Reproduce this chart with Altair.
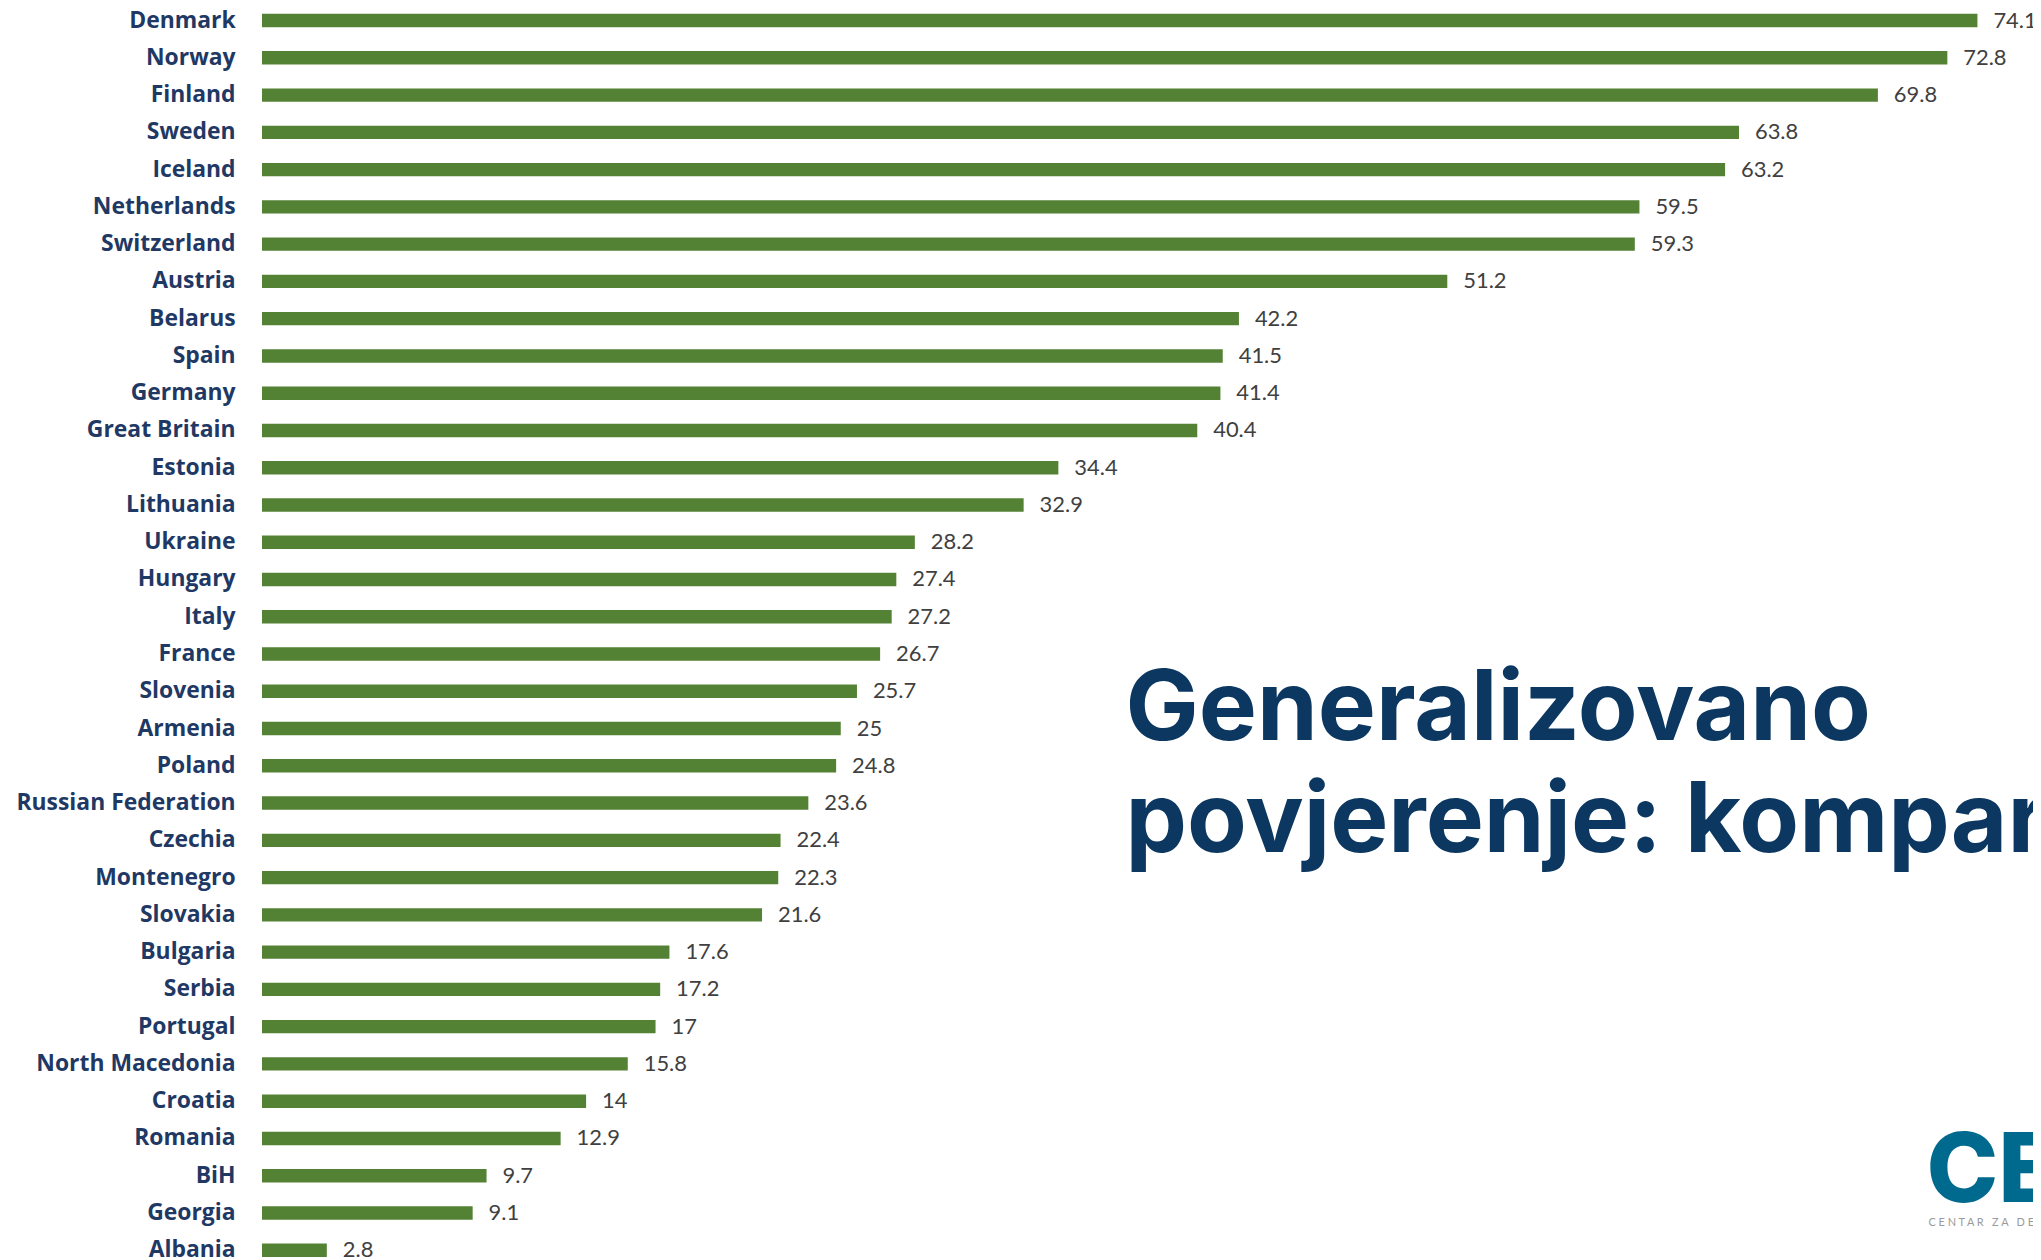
import altair as alt
import pandas as pd

countries = [
    "Denmark", "Norway", "Finland", "Sweden", "Iceland", "Netherlands",
    "Switzerland", "Austria", "Belarus", "Spain", "Germany", "Great Britain",
    "Estonia", "Lithuania", "Ukraine", "Hungary", "Italy", "France",
    "Slovenia", "Armenia", "Poland", "Russian Federation", "Czechia",
    "Montenegro", "Slovakia", "Bulgaria", "Serbia", "Portugal",
    "North Macedonia", "Croatia", "Romania", "BiH", "Georgia", "Albania",
]
values = [
    74.1, 72.8, 69.8, 63.8, 63.2, 59.5,
    59.3, 51.2, 42.2, 41.5, 41.4, 40.4,
    34.4, 32.9, 28.2, 27.4, 27.2, 26.7,
    25.7, 25, 24.8, 23.6, 22.4,
    22.3, 21.6, 17.6, 17.2, 17,
    15.8, 14, 12.9, 9.7, 9.1, 2.8,
]
title_lines = ["Generalizovano", "povjerenje: komparativni pregled"]
logo_text = ["CEDEM"]
logo_words = ["CENTAR", "ZA", "DEMOKRATIJU", "I", "LJUDSKA", "PRAVA"]
logo_sub = ["\u00a0\u00a0\u00a0".join(" ".join(w) for w in logo_words)]

df = pd.DataFrame({
    "country": countries,
    "value": values,
    "label": [f"{v:g}" for v in values],
})

W = 1778
H = 1252

x_scale = alt.Scale(domain=[0, 76.5], nice=False, zero=True)
y_scale = alt.Scale(range=[3.4, 1251.4], paddingInner=0.64, paddingOuter=0)

base = alt.Chart(df).encode(
    y=alt.Y(
        "country:N",
        sort=countries,
        scale=y_scale,
        axis=alt.Axis(
            title=None, domain=False, ticks=False, tickSize=0, grid=False,
            labelPadding=27, labelFont="Open Sans", labelFontWeight="bold",
            labelFontSize=23, labelColor="#1F3864", labelLimit=400,
        ),
    ),
    x=alt.X("value:Q", scale=x_scale, axis=None),
)

bars = base.mark_bar(color="#548235")
vals = base.mark_text(
    align="left", baseline="middle", dx=16, font="Lato", fontSize=22,
    color="#404040",
).encode(text="label:N")

title1 = alt.Chart(pd.DataFrame({"t": [title_lines[0]]})).mark_text(
    align="left", baseline="alphabetic", font="Inter", fontWeight="bold",
    fontSize=98, color="#0B3761",
).encode(text="t:N", x=alt.value(867), y=alt.value(732))

title2 = alt.Chart(pd.DataFrame({"t": [title_lines[1]]})).mark_text(
    align="left", baseline="alphabetic", font="Inter", fontWeight="bold",
    fontSize=98, color="#0B3761",
).encode(text="t:N", x=alt.value(867), y=alt.value(845))

logo = alt.Chart(pd.DataFrame({"t": logo_text})).mark_text(
    align="left", baseline="alphabetic", font="Inter", fontWeight=800,
    fontSize=97, color="#006A8E",
).encode(text="t:N", x=alt.value(1671), y=alt.value(1196))

logo2 = alt.Chart(pd.DataFrame({"t": logo_sub})).mark_text(
    align="left", baseline="alphabetic", font="Lato",
    fontSize=11, color="#9A9A9A",
).encode(text="t:N", x=alt.value(1673), y=alt.value(1220))

chart = alt.layer(bars, vals, title1, title2, logo, logo2).properties(
    width=W,
    height=H,
    padding={"left": 255, "top": 0, "right": 0, "bottom": 0},
    autosize=alt.AutoSizeParams(type="none"),
    background="white",
).configure_view(stroke=None)

chart.save("out.html", embed_options={"renderer": "svg", "actions": False})
